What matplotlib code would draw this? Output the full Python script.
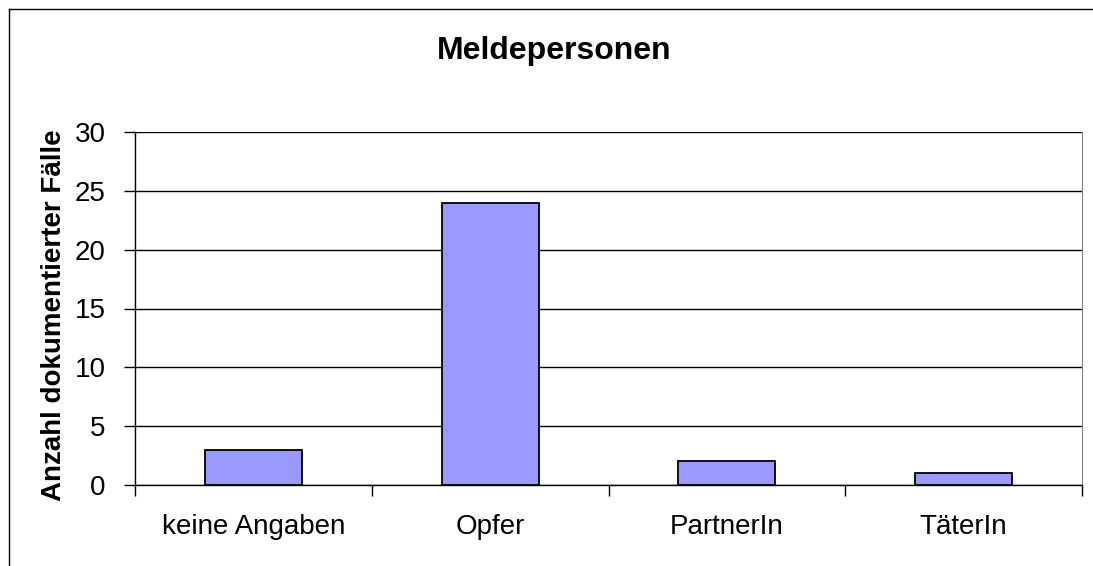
import matplotlib.pyplot as plt
from matplotlib.lines import Line2D
import numpy as np

categories = ['keine Angaben', 'Opfer', 'PartnerIn', 'TäterIn']
counts = [3, 24, 2, 1]
yticks = [0, 5, 10, 15, 20, 25, 30]

plt.rcParams['font.family'] = ['Liberation Sans', 'DejaVu Sans']

W, H = 1093, 566
fig = plt.figure(figsize=(W / 100, H / 100), dpi=100)

# outer chart border: only left and top edges fall inside the picture
bx, by = 8.5 / W, 1 - 8.5 / H
fig.lines.append(Line2D([bx, bx], [0, by], transform=fig.transFigure, color='black', linewidth=1.0))
fig.lines.append(Line2D([bx, 1], [by, by], transform=fig.transFigure, color='black', linewidth=1.0))

ax = fig.add_axes([135 / W, 1 - 485 / H, (1082 - 135) / W, (485 - 132) / H])

x = np.arange(len(categories))
ax.bar(x, counts, width=0.41, color='#9999FF', edgecolor='black', linewidth=1.3, zorder=3)

ax.set_xlim(-0.5, len(categories) - 0.5)
ax.set_ylim(0, 30)
ax.set_yticks(yticks)
ax.yaxis.grid(True, color='black', linewidth=1.0, zorder=0)
ax.tick_params(axis='y', length=8, width=1, labelsize=20, pad=13)

# category labels at centers, tick marks at boundaries
ax.set_xticks(x)
ax.set_xticklabels(categories, fontsize=20)
ax.tick_params(axis='x', which='major', length=0, pad=21)
ax.set_xticks(np.arange(-0.5, len(categories)), minor=True)
ax.tick_params(axis='x', which='minor', length=8, width=1, direction='out')

ax.spines['top'].set_visible(False)
ax.spines['right'].set_color('#808080')
for s in ['left', 'bottom']:
    ax.spines[s].set_linewidth(1.0)

ax.set_ylabel('Anzahl dokumentierter Fälle', fontsize=20, fontweight='bold')
ax.yaxis.set_label_coords((67 - 135) / 947, (485 - 315) / 353)
fig.text(554 / W, 1 - 51 / H, 'Meldepersonen', ha='center', va='center', fontsize=23, fontweight='bold')

fig.savefig('out.png', dpi=100)
